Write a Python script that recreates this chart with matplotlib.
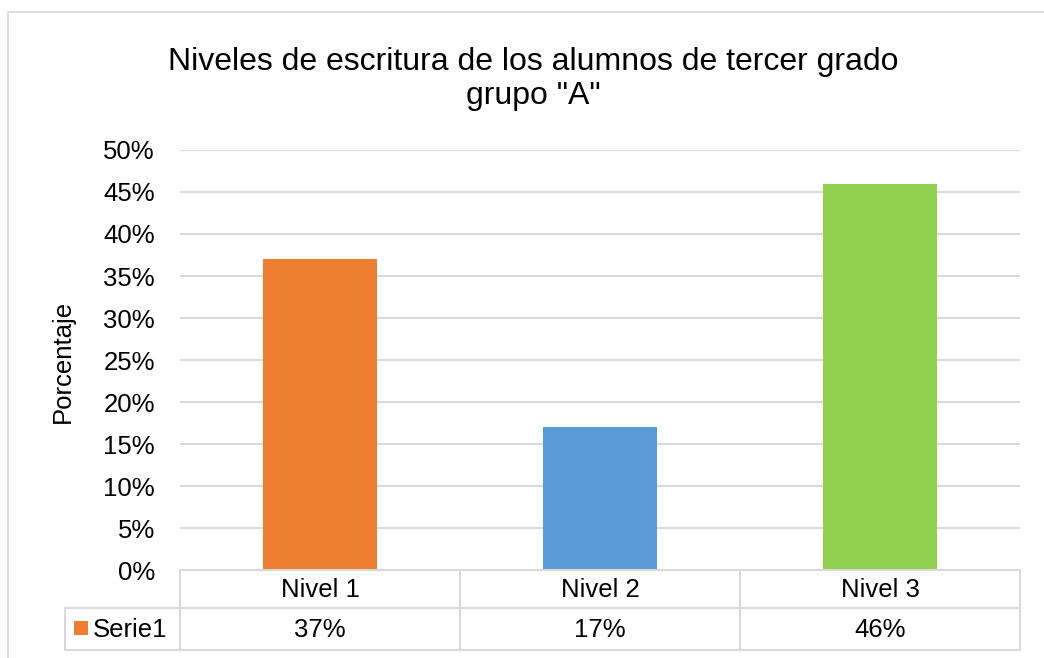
import matplotlib
matplotlib.use("Agg")
import matplotlib.pyplot as plt
from matplotlib.patches import Rectangle
from matplotlib.lines import Line2D
import numpy as np

categories = ["Nivel 1", "Nivel 2", "Nivel 3"]
values = [0.37, 0.17, 0.46]
value_labels = ["37%", "17%", "46%"]
colors = ["#ED7D31", "#5B9BD5", "#92D050"]
series_name = "Serie1"
yticks = [0.0, 0.05, 0.10, 0.15, 0.20, 0.25, 0.30, 0.35, 0.40, 0.45, 0.50]
ytick_labels = ["0%", "5%", "10%", "15%", "20%", "25%", "30%", "35%", "40%", "45%", "50%"]
title = 'Niveles de escritura de los alumnos de tercer grado\ngrupo "A"'
ylabel = "Porcentaje"

plt.rcParams['font.family'] = ['Liberation Sans', 'DejaVu Sans']

W, H = 1044, 658
fig = plt.figure(figsize=(W / 100, H / 100), dpi=100)
GRID = "#d9d9d9"
FS = 18.5

def fx(px):
    return px / W

def fy(py):
    return (H - py) / H

# outer chart border
fig.patches.append(Rectangle((fx(8), fy(700)), fx(1100) - fx(8), fy(12) - fy(700),
                             transform=fig.transFigure, fill=False, edgecolor=GRID, lw=1.2))

left, right, top, bottom = 180, 1020, 150, 570
ax = fig.add_axes([fx(left), fy(bottom), fx(right) - fx(left), fy(top) - fy(bottom)])
x = np.arange(len(categories))
ax.bar(x, values, width=0.405, color=colors, zorder=3)
ax.set_xlim(-0.5, len(categories) - 0.5)
ax.set_ylim(0, 0.5)
ax.set_yticks(yticks)
ax.set_yticklabels(ytick_labels, fontsize=FS)
ax.tick_params(axis='y', length=0, pad=18)
ax.set_xticks([])
for s in ax.spines.values():
    s.set_visible(False)
for t in yticks[1:]:
    ax.axhline(t, color=GRID, lw=1.5, zorder=1)

# data table
def hline(y, x0, x1):
    fig.add_artist(Line2D([fx(x0), fx(x1)], [fy(y), fy(y)], transform=fig.transFigure, color=GRID, lw=1.5))

def vline(xp, y0, y1):
    fig.add_artist(Line2D([fx(xp), fx(xp)], [fy(y0), fy(y1)], transform=fig.transFigure, color=GRID, lw=1.5))

row1_top, row_mid, row2_bot, table_left = 570, 608, 650, 65
hline(row1_top, left, right)
hline(row_mid, table_left, right)
hline(row2_bot, table_left, right)
vline(table_left, row_mid, row2_bot)
cw = (right - left) / len(categories)
for i in range(len(categories) + 1):
    vline(left + i * cw, row1_top, row2_bot)

for i, (cat, lab) in enumerate(zip(categories, value_labels)):
    xc = left + (i + 0.5) * cw
    fig.text(fx(xc), fy(590), cat, ha='center', va='center', fontsize=FS)
    fig.text(fx(xc), fy(630), lab, ha='center', va='center', fontsize=FS)

fig.patches.append(Rectangle((fx(74), fy(635)), fx(14), 14 / H, transform=fig.transFigure,
                             facecolor=colors[0], edgecolor='none'))
fig.text(fx(93), fy(630), series_name, ha='left', va='center', fontsize=FS)

fig.text(fx(533), fy(79), title, ha='center', va='center', fontsize=23, linespacing=1.15)
fig.text(fx(63), fy(361), ylabel, ha='center', va='center', rotation=90, fontsize=FS)

fig.savefig("out.png", dpi=100)
